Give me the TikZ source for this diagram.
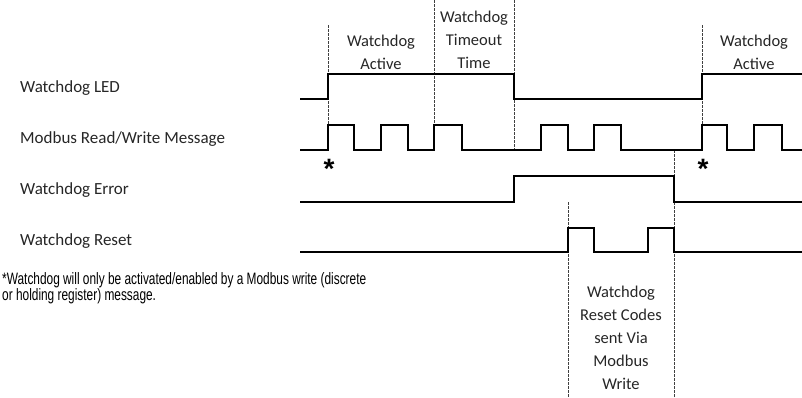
\documentclass[tikz,border=0pt]{standalone}
\usepackage{fontspec}
\setmainfont{Carlito}
\newfontfamily\notefont[FakeStretch=0.72]{Liberation Sans}
\newfontfamily\starfont{Liberation Sans}
\begin{document}
\begin{tikzpicture}[x=1pt,y=-1pt,
  signal/.style={line width=2.8pt,line join=miter,black},
  guide/.style={line width=0.8pt,dash pattern=on 2.5pt off 1.5pt,black!75},
  rowlabel/.style={anchor=west,inner sep=0pt,font=\fontsize{17}{19}\selectfont,text=black!85},
  note/.style={align=center,inner sep=0pt,font=\fontsize{16.5}{23}\selectfont,text=black!85},
  star/.style={anchor=base,inner sep=0pt,font=\starfont\bfseries\fontsize{28}{28}\selectfont}]
\useasboundingbox (0,0) rectangle (802,397);

% row labels
\node[rowlabel] (lled) at (20,88) {Watchdog LED};
\node[rowlabel] (lmod) at (20,139) {Modbus Read/Write Message};
\node[rowlabel] (lerr) at (20,190) {Watchdog Error};
\node[rowlabel] (lrst) at (20,241) {Watchdog Reset};

% dashed time markers
\draw[guide] (328,25) -- (328,125);
\draw[guide] (434,0) -- (434,125);
\draw[guide] (514,0) -- (514,150);
\draw[guide] (702,25) -- (702,125);
\draw[guide] (674,150) -- (674,176);
\draw[guide] (674,202) -- (674,397);
\draw[guide] (568,202) -- (568,397);

% waveforms
\draw[signal] (300,99) -- (328,99) -- (328,74) -- (514,74) -- (514,99) -- (702,99) -- (702,74) -- (802,74);
\draw[signal] (300,150) -- (328,150) -- (328,125) -- (354,125) -- (354,150) -- (381,150) -- (381,125)
  -- (408,125) -- (408,150) -- (434,150) -- (434,125) -- (462,125) -- (462,150) -- (541,150)
  -- (541,125) -- (568,125) -- (568,150) -- (594,150) -- (594,125) -- (621,125) -- (621,150)
  -- (702,150) -- (702,125) -- (727,125) -- (727,150) -- (754,150) -- (754,125) -- (782,125)
  -- (782,150) -- (802,150);
\draw[signal] (300,202) -- (514,202) -- (514,176) -- (674,176) -- (674,202) -- (802,202);
\draw[signal] (300,252) -- (568,252) -- (568,228) -- (594,228) -- (594,252) -- (648,252)
  -- (648,228) -- (674,228) -- (674,252) -- (802,252);

% write markers
\node[star] (s1) at (329,178) {*};
\node[star] (s2) at (703,178) {*};

% interval captions
\node[note] (act1) at (381,52) {Watchdog\\Active};
\node[note] (tmo) at (474,40) {Watchdog\\Timeout\\Time};
\node[note] (act2) at (754,52) {Watchdog\\Active};
\node[note] (codes) at (621,338) {Watchdog\\Reset Codes\\sent Via\\Modbus\\Write};

% footnote
\node[anchor=base west,align=left,inner sep=0pt,
  font=\notefont\fontsize{16.5}{15.5}\selectfont] (fn) at (2,300)
  {*Watchdog will only be activated/enabled by a Modbus write (discrete\\or holding register) message.};
\end{tikzpicture}
\end{document}
